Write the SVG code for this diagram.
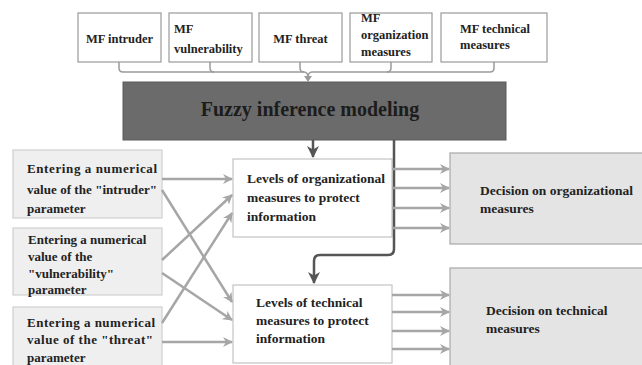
<svg xmlns="http://www.w3.org/2000/svg" width="642" height="365" viewBox="0 0 642 365">
  <defs>
    <marker id="grayHead" markerWidth="10" markerHeight="10" refX="9" refY="5" orient="auto" markerUnits="userSpaceOnUse">
      <path d="M0,0 L10,5 L0,10 L3,5 Z" fill="#a6a6a6"/>
    </marker>
    <marker id="darkHead" markerWidth="12" markerHeight="12" refX="11" refY="6" orient="auto" markerUnits="userSpaceOnUse">
      <path d="M0,0 L12,6 L0,12 L3.5,6 Z" fill="#555"/>
    </marker>
  </defs>
  <style>
    text { font-family: "Liberation Serif", "Times New Roman", serif; font-weight: bold; fill: #222; }
    .mf { fill: #fff; stroke: #9a9a9a; stroke-width: 1.2; }
    .mft { font-size: 12.5px; }
    .input { fill: #efefef; stroke: #cfcfcf; stroke-width: 1.2; }
    .inpt { font-size: 13px; }
    .level { fill: #fff; stroke: #c4c4c4; stroke-width: 1.2; }
    .lvt { font-size: 13.5px; }
    .decision { fill: #e4e4e4; stroke: #a8a8a8; stroke-width: 1.2; }
    .gray { fill: none; stroke: #a6a6a6; stroke-width: 2.5; marker-end: url(#grayHead); }
    .dark { fill: none; stroke: #555; stroke-width: 2.5; }
    .brace { fill: none; stroke: #9a9a9a; stroke-width: 1.5; }
  </style>

  <rect width="642" height="365" fill="#fff"/>

  <!-- membership function boxes -->
  <g id="mf-intruder">
    <rect class="mf" x="78" y="13" width="83" height="49"/>
    <text class="mft" x="119.5" y="43" text-anchor="middle">MF intruder</text>
  </g>
  <g id="mf-vulnerability">
    <rect class="mf" x="169" y="13" width="83" height="49"/>
    <text class="mft" x="174" y="33">MF</text>
    <text class="mft" x="174" y="53">vulnerability</text>
  </g>
  <g id="mf-threat">
    <rect class="mf" x="259" y="13" width="83" height="49"/>
    <text class="mft" x="300.5" y="43" text-anchor="middle">MF threat</text>
  </g>
  <g id="mf-organization">
    <rect class="mf" x="350" y="13" width="82" height="49"/>
    <text class="mft" x="361" y="22">MF</text>
    <text class="mft" x="361" y="39">organization</text>
    <text class="mft" x="361" y="56">measures</text>
  </g>
  <g id="mf-technical">
    <rect class="mf" x="441" y="13" width="106" height="49"/>
    <text class="mft" x="460" y="33">MF technical</text>
    <text class="mft" x="460" y="49">measures</text>
  </g>

  <!-- central modeling block -->
  <g id="fuzzy-inference">
    <rect x="123" y="82" width="383" height="58" fill="#6b6b6b" stroke="#5a5a5a" stroke-width="1"/>
    <text x="310" y="116" text-anchor="middle" font-size="20" style="fill:#1c1c1c">Fuzzy inference modeling</text>
  </g>

  <!-- input boxes -->
  <g id="input-intruder">
    <rect class="input" x="13" y="150" width="149" height="68"/>
    <text class="inpt" x="27" y="173" textLength="130" lengthAdjust="spacing">Entering a numerical</text>
    <text class="inpt" x="27" y="194" textLength="130" lengthAdjust="spacing">value of the "intruder"</text>
    <text class="inpt" x="27" y="213">parameter</text>
  </g>
  <g id="input-vulnerability">
    <rect class="input" x="13" y="228" width="149" height="67"/>
    <text class="inpt" x="28" y="244">Entering a numerical</text>
    <text class="inpt" x="28" y="261">value of the</text>
    <text class="inpt" x="28" y="278">"vulnerability"</text>
    <text class="inpt" x="28" y="294">parameter</text>
  </g>
  <g id="input-threat">
    <rect class="input" x="13" y="307" width="149" height="70"/>
    <text class="inpt" x="27" y="327" textLength="128" lengthAdjust="spacing">Entering a numerical</text>
    <text class="inpt" x="27" y="344" textLength="126" lengthAdjust="spacing">value of the "threat"</text>
    <text class="inpt" x="27" y="362">parameter</text>
  </g>

  <!-- measure level boxes -->
  <g id="levels-organizational">
    <rect class="level" x="233" y="159" width="159" height="78"/>
    <text class="lvt" x="247" y="183">Levels of organizational</text>
    <text class="lvt" x="247" y="202">measures to protect</text>
    <text class="lvt" x="247" y="221">information</text>
  </g>
  <g id="levels-technical">
    <rect class="level" x="233" y="285" width="159" height="78"/>
    <text class="lvt" x="256" y="307">Levels of technical</text>
    <text class="lvt" x="256" y="325">measures to protect</text>
    <text class="lvt" x="256" y="343">information</text>
  </g>

  <!-- decision boxes -->
  <g id="decision-organizational">
    <rect class="decision" x="450" y="153" width="200" height="91"/>
    <text class="lvt" x="480" y="195">Decision on organizational</text>
    <text class="lvt" x="480" y="213">measures</text>
  </g>
  <g id="decision-technical">
    <rect class="decision" x="450" y="268" width="200" height="110"/>
    <text class="lvt" x="486" y="315">Decision on technical</text>
    <text class="lvt" x="486" y="333">measures</text>
  </g>

  <g id="connectors">
    <!-- brace gathering membership functions -->
    <path class="brace" d="M119,62 V68 Q119,72 123,72 H304 Q308,72 308,78 Q308,72 312,72 H490 Q494,72 494,68 V62"/>
    <path class="brace" d="M210,62 V68 Q210,72 214,72"/>
    <path class="brace" d="M300,62 V68 Q300,72 304,72"/>
    <path class="brace" d="M391,62 V68 Q391,72 387,72"/>
    <path d="M304,76 L308,82 L312,76 Z" fill="#9a9a9a"/>

    <!-- modeling outputs -->
    <path class="dark" d="M313,140 V157" marker-end="url(#darkHead)"/>
    <path class="dark" d="M394,140 V249 Q394,255 388,255 H320 Q314,255 314,261 V283" marker-end="url(#darkHead)"/>

    <!-- inputs to levels -->
    <path class="gray" d="M162,179 H232"/>
    <path class="gray" d="M162,190 L232,302"/>
    <path class="gray" d="M162,260 L232,195"/>
    <path class="gray" d="M162,273 L232,320"/>
    <path class="gray" d="M162,323 L232,213"/>
    <path class="gray" d="M162,342 H232"/>

    <!-- levels to decisions -->
    <path class="gray" d="M392,169 H449"/>
    <path class="gray" d="M392,188 H449"/>
    <path class="gray" d="M392,208 H449"/>
    <path class="gray" d="M392,228 H449"/>
    <path class="gray" d="M392,295 H449"/>
    <path class="gray" d="M392,312 H449"/>
    <path class="gray" d="M392,331 H449"/>
    <path class="gray" d="M392,349 H449"/>
  </g>
</svg>
